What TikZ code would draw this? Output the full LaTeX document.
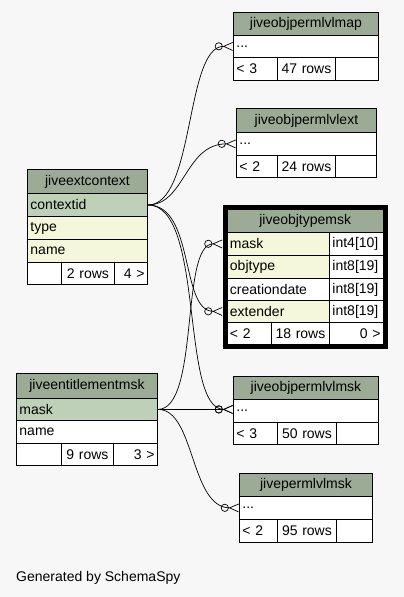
\documentclass[tikz,border=0pt]{standalone}
\usepackage{fontspec}
\setmainfont{Liberation Sans}
\usetikzlibrary{arrows.meta}
\definecolor{bggray}{HTML}{F7F7F7}
\definecolor{hdrgreen}{HTML}{9BAB96}
\definecolor{keygreen}{HTML}{BED1B8}
\definecolor{idxyellow}{HTML}{F4F7DA}
\tikzset{
  cell/.style={draw, line width=0.9pt, anchor=north west, inner xsep=3pt, inner ysep=0pt,
    font=\fontsize{14}{16}\selectfont},
  hdr/.style={cell, fill=hdrgreen, align=center},
  keycol/.style={cell, fill=keygreen, align=left},
  idxcol/.style={cell, fill=idxyellow, align=left},
  col/.style={cell, fill=white, align=left},
  foot/.style={cell, fill=white, minimum height=#1},
  fk/.style={line width=0.7pt,
    -{Circle[open,length=8pt,width=8pt] Straight Barb[reversed,length=9pt,width=8pt]}},
}
\begin{document}
\begin{tikzpicture}[x=1pt,y=-1pt]
      \fill[bggray] (0,0) rectangle (404,597);
      \useasboundingbox (0,0) rectangle (404,597);

      % jiveobjpermlvlmap
      \node[hdr, text width=139pt, minimum height=23pt] (map) at (233,12) {jiveobjpermlvlmap};
      \node[col, text width=139pt, minimum height=22pt] (map-dots) at (233,35) {...};
      \node[foot=23pt, text width=38pt, align=left] (map-f1) at (233,57) {< 3};
      \node[foot=23pt, text width=52pt, align=center] (map-f2) at (277,57) {47 rows};
      \node[foot=23pt, text width=37pt] (map-f3) at (335,57) {};

      % jiveobjpermlvlext
      \node[hdr, text width=134pt, minimum height=24pt] (ext) at (236,108) {jiveobjpermlvlext};
      \node[col, text width=134pt, minimum height=23pt] (ext-dots) at (236,132) {...};
      \node[foot=22pt, text width=35pt, align=left] (ext-f1) at (236,155) {< 2};
      \node[foot=22pt, text width=52pt, align=center] (ext-f2) at (277,155) {24 rows};
      \node[foot=22pt, text width=35pt] (ext-f3) at (335,155) {};

      % jiveextcontext
      \node[hdr, text width=114pt, minimum height=24pt] (ctx) at (27,169) {jiveextcontext};
      \node[keycol, text width=114pt, minimum height=23pt] (ctx-contextid) at (27,193) {contextid};
      \node[idxcol, text width=114pt, minimum height=23pt] (ctx-type) at (27,216) {type};
      \node[idxcol, text width=114pt, minimum height=23pt] (ctx-name) at (27,239) {name};
      \node[foot=22pt, text width=28pt] (ctx-f1) at (27,262) {};
      \node[foot=22pt, text width=47pt, align=center] (ctx-f2) at (61,262) {2 rows};
      \node[foot=22pt, text width=27pt, align=right] (ctx-f3) at (114,262) {4 >};

      % jiveobjtypemsk
      \node[hdr, text width=150.5pt, minimum height=23pt] (ot) at (226.5,209) {jiveobjtypemsk};
      \node[idxcol, text width=96.5pt, minimum height=23pt] (ot-mask) at (226.5,232) {mask};
      \node[col, text width=48pt, minimum height=23pt] (ot-mask-t) at (329,232) {int4[10]};
      \node[idxcol, text width=96.5pt, minimum height=23pt] (ot-objtype) at (226.5,255) {objtype};
      \node[col, text width=48pt, minimum height=23pt] (ot-objtype-t) at (329,255) {int8[19]};
      \node[col, text width=96.5pt, minimum height=22pt] (ot-creationdate) at (226.5,278) {creationdate};
      \node[col, text width=48pt, minimum height=22pt] (ot-creationdate-t) at (329,278) {int8[19]};
      \node[idxcol, text width=96.5pt, minimum height=22pt] (ot-extender) at (226.5,300) {extender};
      \node[col, text width=48pt, minimum height=22pt] (ot-extender-t) at (329,300) {int8[19]};
      \node[foot=22pt, text width=38.5pt, align=left] (ot-f1) at (226.5,322) {< 2};
      \node[foot=22pt, text width=52pt, align=center] (ot-f2) at (271,322) {18 rows};
      \node[foot=22pt, text width=48pt, align=right] (ot-f3) at (329,322) {0 >};
      \draw[line width=4pt] ([shift={(-2pt,2pt)}]ot.north west) rectangle ([shift={(2pt,-2pt)}]ot-f3.south east);

      % jiveentitlementmsk
      \node[hdr, text width=135pt, minimum height=25pt] (ent) at (16,373) {jiveentitlementmsk};
      \node[keycol, text width=135pt, minimum height=22pt] (ent-mask) at (16,398) {mask};
      \node[col, text width=135pt, minimum height=23pt] (ent-name) at (16,420) {name};
      \node[foot=22pt, text width=39pt] (ent-f1) at (16,443) {};
      \node[foot=22pt, text width=46pt, align=center] (ent-f2) at (61,443) {9 rows};
      \node[foot=22pt, text width=38pt, align=right] (ent-f3) at (113,443) {3 >};

      % jiveobjpermlvlmsk
      \node[hdr, text width=139pt, minimum height=23pt] (opm) at (233,376) {jiveobjpermlvlmsk};
      \node[col, text width=139pt, minimum height=23pt] (opm-dots) at (233,399) {...};
      \node[foot=22pt, text width=38pt, align=left] (opm-f1) at (233,422) {< 3};
      \node[foot=22pt, text width=53pt, align=center] (opm-f2) at (277,422) {50 rows};
      \node[foot=22pt, text width=36pt] (opm-f3) at (336,422) {};

      % jivepermlvlmsk
      \node[hdr, text width=127pt, minimum height=23pt] (pm) at (239,473) {jivepermlvlmsk};
      \node[col, text width=127pt, minimum height=23pt] (pm-dots) at (239,496) {...};
      \node[foot=23pt, text width=32pt, align=left] (pm-f1) at (239,519) {< 2};
      \node[foot=23pt, text width=53pt, align=center] (pm-f2) at (277,519) {95 rows};
      \node[foot=23pt, text width=30pt] (pm-f3) at (336,519) {};

      \node[anchor=west, inner sep=0pt, font=\fontsize{14}{16}\selectfont] (gen) at (16,578) {Generated by SchemaSpy};

      % foreign keys
      \draw[fk] (ctx-contextid.east) .. controls (195,205) and (185,46) .. (map-dots.west);
      \draw[fk] (ctx-contextid.east) .. controls (185,205) and (185,143.5) .. (ext-dots.west);
      \draw[fk] (ctx-contextid.east) .. controls (195,205) and (180,311) .. ([xshift=-4pt]ot-extender.west);
      \draw[fk] (ctx-contextid.east) .. controls (205,205) and (180,409) .. (opm-dots.west |- ent-mask.east);
      \draw[fk] (ent-mask.east) .. controls (200,409) and (180,243.5) .. ([xshift=-4pt]ot-mask.west);
      \draw[fk] (ent-mask.east) -- (opm-dots.west |- ent-mask.east);
      \draw[fk] (ent-mask.east) .. controls (195,409) and (190,507.5) .. (pm-dots.west);

    \end{tikzpicture}
\end{document}
